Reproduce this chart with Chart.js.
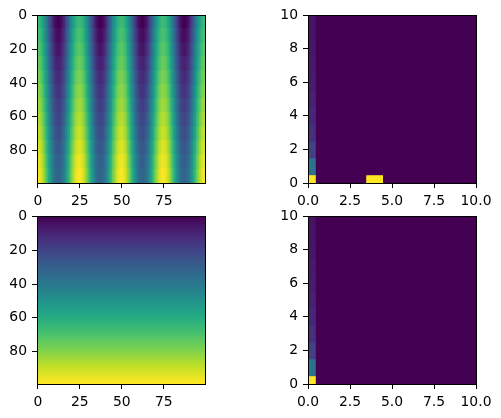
<!DOCTYPE html>
<html>
<head>
<meta charset="utf-8">
<style>
	html, body { margin: 0; background: #fff; }
	#page { position: relative; width: 501px; height: 418px; overflow: hidden; }
	canvas { position: absolute; }
</style>
<script src="https://cdn.jsdelivr.net/npm/chart.js@4/dist/chart.umd.js"></script>
</head>
<body>
<div id="page">
	<canvas id="waves" width="250" height="209" style="left:0;top:0"></canvas>
	<canvas id="histA" width="230" height="209" style="left:271px;top:0"></canvas>
	<canvas id="ramp" width="250" height="218" style="left:0;top:200px"></canvas>
	<canvas id="histB" width="230" height="218" style="left:271px;top:200px"></canvas>
</div>
<script>
// all heat values are percent of the colour range
const waveColumns = [0,1,2,3,4,5,6,7,8,9,10,11,12,13,14,15,16,17,18,19,20,21,22,23,24,25,26,27,28,29,30,31,32,33,34,35,36,37,38,39,40,41,42,43,44,45,46,47,48,49,50,51,52,53,54,55,56,57,58,59,60,61,62,63,64,65,66,67,68,69,70,71,72,73,74,75,76,77,78,79,80,81,82,83,84,85,86,87,88,89,90,91,92,93,94,95,96,97,98,99];
const waveRowEdges = [-0.5, 7.8, 16.2, 24.5, 32.8, 41.2, 49.5, 57.8, 66.2, 74.5, 82.8, 91.2, 99.5];
const waveValues = [
	[68,67,64,59,52,45,36,28,20,12,6,2,0,0,2,6,12,20,28,36,45,52,59,64,67, 68,67,64,59,52,45,36,28,20,12,6,2,0,0,2,6,12,20,28,36,45,52,59,64,67, 68,67,64,59,52,45,36,28,20,12,6,2,0,0,2,6,12,20,28,36,45,52,59,64,67, 68,67,64,59,52,45,36,28,20,12,6,2,0,0,2,6,12,20,28,36,45,52,59,64,67],
	[71,70,67,62,55,48,39,31,23,15,9,5,3,3,5,9,15,23,31,39,48,55,62,67,70, 71,70,67,62,55,48,39,31,23,15,9,5,3,3,5,9,15,23,31,39,48,55,62,67,70, 71,70,67,62,55,48,39,31,23,15,9,5,3,3,5,9,15,23,31,39,48,55,62,67,70, 71,70,67,62,55,48,39,31,23,15,9,5,3,3,5,9,15,23,31,39,48,55,62,67,70],
	[74,73,70,65,58,51,42,34,26,18,12,8,6,6,8,12,18,26,34,42,51,58,65,70,73, 74,73,70,65,58,51,42,34,26,18,12,8,6,6,8,12,18,26,34,42,51,58,65,70,73, 74,73,70,65,58,51,42,34,26,18,12,8,6,6,8,12,18,26,34,42,51,58,65,70,73, 74,73,70,65,58,51,42,34,26,18,12,8,6,6,8,12,18,26,34,42,51,58,65,70,73],
	[77,76,73,68,61,54,45,37,29,21,15,11,9,9,11,15,21,29,37,45,54,61,68,73,76, 77,76,73,68,61,54,45,37,29,21,15,11,9,9,11,15,21,29,37,45,54,61,68,73,76, 77,76,73,68,61,54,45,37,29,21,15,11,9,9,11,15,21,29,37,45,54,61,68,73,76, 77,76,73,68,61,54,45,37,29,21,15,11,9,9,11,15,21,29,37,45,54,61,68,73,76],
	[80,79,76,71,64,57,48,40,32,24,18,14,12,12,14,18,24,32,40,48,57,64,71,76,79, 80,79,76,71,64,57,48,40,32,24,18,14,12,12,14,18,24,32,40,48,57,64,71,76,79, 80,79,76,71,64,57,48,40,32,24,18,14,12,12,14,18,24,32,40,48,57,64,71,76,79, 80,79,76,71,64,57,48,40,32,24,18,14,12,12,14,18,24,32,40,48,57,64,71,76,79],
	[83,82,79,74,67,60,51,43,35,27,21,17,15,15,17,21,27,35,43,51,60,67,74,79,82, 83,82,79,74,67,60,51,43,35,27,21,17,15,15,17,21,27,35,43,51,60,67,74,79,82, 83,82,79,74,67,60,51,43,35,27,21,17,15,15,17,21,27,35,43,51,60,67,74,79,82, 83,82,79,74,67,60,51,43,35,27,21,17,15,15,17,21,27,35,43,51,60,67,74,79,82],
	[86,85,82,77,70,63,54,46,38,30,24,20,18,18,20,24,30,38,46,54,63,70,77,82,85, 86,85,82,77,70,63,54,46,38,30,24,20,18,18,20,24,30,38,46,54,63,70,77,82,85, 86,85,82,77,70,63,54,46,38,30,24,20,18,18,20,24,30,38,46,54,63,70,77,82,85, 86,85,82,77,70,63,54,46,38,30,24,20,18,18,20,24,30,38,46,54,63,70,77,82,85],
	[89,88,85,80,73,66,57,49,41,33,27,23,21,21,23,27,33,41,49,57,66,73,80,85,88, 89,88,85,80,73,66,57,49,41,33,27,23,21,21,23,27,33,41,49,57,66,73,80,85,88, 89,88,85,80,73,66,57,49,41,33,27,23,21,21,23,27,33,41,49,57,66,73,80,85,88, 89,88,85,80,73,66,57,49,41,33,27,23,21,21,23,27,33,41,49,57,66,73,80,85,88],
	[92,91,88,83,76,69,60,52,44,36,30,26,24,24,26,30,36,44,52,60,69,76,83,88,91, 92,91,88,83,76,69,60,52,44,36,30,26,24,24,26,30,36,44,52,60,69,76,83,88,91, 92,91,88,83,76,69,60,52,44,36,30,26,24,24,26,30,36,44,52,60,69,76,83,88,91, 92,91,88,83,76,69,60,52,44,36,30,26,24,24,26,30,36,44,52,60,69,76,83,88,91],
	[95,94,91,86,79,72,63,55,47,39,33,29,27,27,29,33,39,47,55,63,72,79,86,91,94, 95,94,91,86,79,72,63,55,47,39,33,29,27,27,29,33,39,47,55,63,72,79,86,91,94, 95,94,91,86,79,72,63,55,47,39,33,29,27,27,29,33,39,47,55,63,72,79,86,91,94, 95,94,91,86,79,72,63,55,47,39,33,29,27,27,29,33,39,47,55,63,72,79,86,91,94],
	[98,97,94,89,82,75,66,58,50,42,36,32,30,30,32,36,42,50,58,66,75,82,89,94,97, 98,97,94,89,82,75,66,58,50,42,36,32,30,30,32,36,42,50,58,66,75,82,89,94,97, 98,97,94,89,82,75,66,58,50,42,36,32,30,30,32,36,42,50,58,66,75,82,89,94,97, 98,97,94,89,82,75,66,58,50,42,36,32,30,30,32,36,42,50,58,66,75,82,89,94,97],
	[100,99,96,91,84,77,68,60,52,44,38,34,32,32,34,38,44,52,60,68,77,84,91,96,99, 100,99,96,91,84,77,68,60,52,44,38,34,32,32,34,38,44,52,60,68,77,84,91,96,99, 100,99,96,91,84,77,68,60,52,44,38,34,32,32,34,38,44,52,60,68,77,84,91,96,99, 100,99,96,91,84,77,68,60,52,44,38,34,32,32,34,38,44,52,60,68,77,84,91,96,99]
];

// one value per image row, top to bottom
const rampRows = [0,1,2,3,4,5,6,7,8,9,10,11,12,13,14,15,16,17,18,19,20,21,22,23,24,25,26,27,28,29,30,31,32,33,34,35,36,37,38,39,40,41,42,43,44,45,46,47,48,49,50,51,52,53,54,55,56,57,58,59,60,61,62,63,64,65,66,67,68,69,70,71,72,73,74,75,76,77,78,79,80,81,82,83,84,85,86,87,88,89,90,91,92,93,94,95,96,97,98,99];
const rampValues = [0,1,2,3,4,5,6,7,8,9,10,11,12,13,14,15,16,17,18,19,20,21,22,23,24,25,26,27,28,29,30,31,32,33,34,35,36,37,38,39,40,41,42,43,44,45,46,47,48,49,51,52,53,54,55,56,57,58,59,60,61,62,63,64,65,66,67,68,69,70,71,72,73,74,75,76,77,78,79,80,81,82,83,84,85,86,87,88,89,90,91,92,93,94,95,96,97,98,99,100];

// histogram panels: rows run from y=0 upward, columns from x=0 rightward
const histColumns = [0, 1, 2, 3, 4, 5, 6, 7, 8, 9, 10];
const histRowEdges = [-0.5, 0.5, 1.5, 2.5, 3.5, 4.5, 5.5, 6.5, 7.5, 8.5, 9.5, 10.5];
const histAValues = [
	[100,0,0,0,100,0,0,0,0,0,0],
	[37,0,0,0,0,0,0,0,0,0,0],
	[19,0,0,0,0,0,0,0,0,0,0],
	[14,0,0,0,0,0,0,0,0,0,0],
	[11,0,0,0,0,0,0,0,0,0,0],
	[9,0,0,0,0,0,0,0,0,0,0],
	[8,0,0,0,0,0,0,0,0,0,0],
	[7,0,0,0,0,0,0,0,0,0,0],
	[6,0,0,0,0,0,0,0,0,0,0],
	[5,0,0,0,0,0,0,0,0,0,0],
	[5,0,0,0,0,0,0,0,0,0,0]
];
const histBValues = [
	[100,0,0,0,0,0,0,0,0,0,0],
	[37,0,0,0,0,0,0,0,0,0,0],
	[19,0,0,0,0,0,0,0,0,0,0],
	[14,0,0,0,0,0,0,0,0,0,0],
	[11,0,0,0,0,0,0,0,0,0,0],
	[9,0,0,0,0,0,0,0,0,0,0],
	[8,0,0,0,0,0,0,0,0,0,0],
	[7,0,0,0,0,0,0,0,0,0,0],
	[6,0,0,0,0,0,0,0,0,0,0],
	[5,0,0,0,0,0,0,0,0,0,0],
	[5,0,0,0,0,0,0,0,0,0,0]
];

const imageXTicks = [0, 25, 50, 75];
const imageXLabels = ["0", "25", "50", "75"];
const imageYTicks = [0, 20, 40, 60, 80];
const imageYLabels = ["0", "20", "40", "60", "80"];
const histXTicks = [0, 2.5, 5, 7.5, 10];
const histXLabels = ["0.0", "2.5", "5.0", "7.5", "10.0"];
const histYTicks = [0, 2, 4, 6, 8, 10];
const histYLabels = ["0", "2", "4", "6", "8", "10"];

const viridis = [[68,1,84],[72,36,117],[65,68,135],[53,95,141],[42,120,142],[33,145,140],[34,168,132],[68,191,112],[122,209,81],[189,223,38],[253,231,37]];

function heatColor(percent) {
	const pos = Math.min(percent, 100) / 10;
	const i = Math.min(Math.floor(pos), 9);
	const f = pos - i;
	const c = viridis[i].map((v, k) => Math.round(v + (viridis[i + 1][k] - v) * f));
	return "rgb(" + c.join(",") + ")";
}

function gridDataset(values, columns, rowEdges) {
	const data = [];
	const colors = [];
	values.forEach((row, r) => {
		row.forEach((v, c) => {
			data.push({ x: columns[c], y: [rowEdges[r], rowEdges[r + 1]] });
			colors.push(heatColor(v));
		});
	});
	return { data: data, backgroundColor: colors };
}

// top and right spines too, chart.js only draws the axis side
const spines = {
	id: "spines",
	afterDraw(chart) {
		const { ctx, chartArea } = chart;
		ctx.save();
		ctx.strokeStyle = "#000";
		ctx.lineWidth = 1;
		ctx.strokeRect(chartArea.left + 0.5, chartArea.top + 0.5, chartArea.width, chartArea.height);
		ctx.restore();
	},
};

function axis(min, max, reverse, tickValues, tickLabels, size, prop) {
	return {
		type: "linear",
		min: min,
		max: max,
		reverse: reverse,
		offset: false,
		border: { display: false },
		grid: { offset: false, drawOnChartArea: false, drawTicks: true, tickLength: 5, tickColor: "#000", tickWidth: 1 },
		ticks: {
			color: "#000",
			padding: 5,
			maxRotation: 0,
			autoSkip: false,
			font: { family: "'DejaVu Sans'", size: 13.9 },
			callback: (value, i) => tickLabels[i],
		},
		afterBuildTicks: scale => { scale.ticks = tickValues.map(value => ({ value: value })); },
		afterFit: scale => { scale[prop] = size; },
	};
}

function panel(id, dataset, indexAxis, xAxis, yAxis, padding) {
	new Chart(document.getElementById(id), {
		type: "bar",
		data: {
			datasets: [Object.assign(dataset, {
				barPercentage: 1,
				categoryPercentage: 1,
				inflateAmount: 0.6,
				borderWidth: 0,
			})],
		},
		options: {
			indexAxis: indexAxis,
			responsive: false,
			animation: false,
			layout: { padding: padding },
			scales: { x: xAxis, y: yAxis },
			plugins: { legend: { display: false }, tooltip: { enabled: false } },
		},
		plugins: [spines],
	});
}

panel("waves", gridDataset(waveValues, waveColumns, waveRowEdges), "x",
	axis(-0.5, 99.5, false, imageXTicks, imageXLabels, 26, "height"),
	axis(-0.5, 99.5, true, imageYTicks, imageYLabels, 37, "width"),
	{ top: 15, right: 45, bottom: 0, left: 0 });

panel("histA", gridDataset(histAValues, histColumns, histRowEdges), "x",
	axis(0, 10, false, histXTicks, histXLabels, 26, "height"),
	axis(0, 10, false, histYTicks, histYLabels, 37, "width"),
	{ top: 15, right: 25, bottom: 0, left: 0 });

panel("ramp", {
	data: rampRows.map(r => ({ y: r, x: [-0.5, 99.5] })),
	backgroundColor: rampValues.map(heatColor),
}, "y",
	axis(-0.5, 99.5, false, imageXTicks, imageXLabels, 34, "height"),
	axis(-0.5, 99.5, true, imageYTicks, imageYLabels, 37, "width"),
	{ top: 16, right: 45, bottom: 0, left: 0 });

panel("histB", gridDataset(histBValues, histColumns, histRowEdges), "x",
	axis(0, 10, false, histXTicks, histXLabels, 34, "height"),
	axis(0, 10, false, histYTicks, histYLabels, 37, "width"),
	{ top: 16, right: 25, bottom: 0, left: 0 });
</script>
</body>
</html>
